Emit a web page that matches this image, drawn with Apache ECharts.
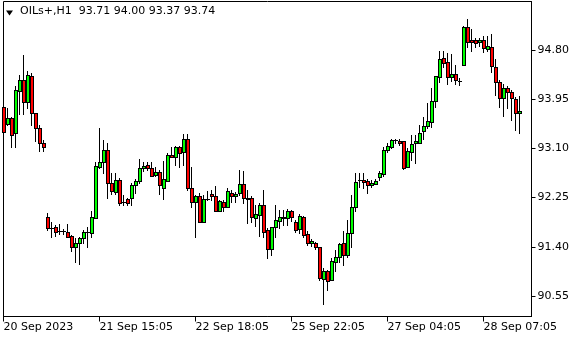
<!DOCTYPE html>
<html><head><meta charset="utf-8">
<script src="https://cdn.jsdelivr.net/npm/echarts@6/dist/echarts.min.js"></script>
<style>html,body{margin:0;padding:0;background:#fff}#c{width:580px;height:340px}</style>
</head><body><div id="c"></div>
<script>
const symbolName = 'OILs+,H1';
const lastQuote = [93.71, 94.00, 93.37, 93.74];
const lastPrice = 93.74;

const open = [
93.81,93.53,93.62,93.36,94.10,94.28,93.91,94.35,93.71,93.45,
93.19,91.91,91.73,91.74,91.68,91.68,91.66,91.59,91.39,91.46,
91.55,91.66,91.63,91.89,92.78,92.86,93.07,92.51,92.35,92.55,
92.18,92.22,92.24,92.46,92.54,92.76,92.81,92.76,92.64,92.70,
92.42,92.54,92.99,92.96,93.12,93.03,93.27,92.41,92.18,92.28,
91.83,92.22,92.32,92.28,92.02,92.17,92.08,92.33,92.27,92.33,
92.48,92.24,92.24,91.89,91.95,92.12,91.69,91.37,91.75,91.85,
91.89,91.89,92.02,91.82,91.70,91.91,91.62,91.46,91.47,91.39,
90.84,90.98,90.83,91.13,91.22,91.46,91.26,91.63,92.08,92.55,
92.55,92.54,92.46,92.49,92.60,92.66,93.08,93.12,93.24,93.23,
93.22,92.78,93.04,93.19,93.19,93.40,93.49,93.56,93.92,94.34,
94.66,94.60,94.34,94.39,94.27,94.54,95.19,94.97,94.98,94.93,
94.97,94.81,94.85,94.50,94.24,93.97,94.14,94.08,93.95,93.71];
const close = [
93.39,93.62,93.34,94.11,94.28,93.90,94.37,93.71,93.45,93.19,
93.12,91.72,91.72,91.66,91.67,91.68,91.57,91.39,91.46,91.55,
91.66,91.66,91.91,92.80,92.86,93.07,92.51,92.37,92.55,92.15,
92.18,92.15,92.47,92.54,92.76,92.80,92.76,92.63,92.69,92.46,
92.57,92.99,92.96,93.12,93.02,93.26,92.41,92.18,92.28,91.83,
92.22,92.22,92.27,92.02,92.19,92.08,92.37,92.27,92.32,92.48,
92.25,92.22,91.91,91.96,92.12,91.66,91.37,91.74,91.86,91.91,
91.91,92.01,91.91,91.69,91.93,91.60,91.46,91.50,91.40,90.86,
90.98,90.81,91.15,91.22,91.44,91.26,91.63,92.08,92.52,92.55,
92.52,92.46,92.50,92.53,92.67,93.08,93.14,93.24,93.24,93.19,
92.77,93.06,93.18,93.22,93.37,93.49,93.57,93.92,94.35,94.64,
94.58,94.34,94.39,94.28,94.27,95.19,94.93,94.94,94.92,94.97,
94.83,94.87,94.52,94.24,93.97,94.14,94.08,93.97,93.71,93.74];
const low = [
93.38,93.50,93.13,93.13,93.69,93.69,93.79,93.50,93.23,93.06,
93.06,91.69,91.57,91.59,91.62,91.62,91.57,91.32,91.13,91.11,
91.46,91.39,91.57,91.89,92.77,92.67,92.24,92.31,92.32,92.12,
92.12,92.13,92.13,92.33,92.50,92.71,92.73,92.62,92.62,92.31,
92.23,92.54,92.95,92.81,92.78,92.81,92.39,92.08,91.57,91.82,
91.83,92.21,92.21,92.01,92.01,92.01,92.08,92.18,92.18,92.29,
92.15,91.81,91.82,91.76,91.59,91.57,91.20,91.26,91.57,91.72,
91.78,91.78,91.85,91.65,91.63,91.57,91.43,91.41,91.37,90.83,
90.42,90.65,90.83,90.98,91.14,91.09,91.23,91.40,92.02,92.43,
92.41,92.33,92.43,92.48,92.55,92.62,93.04,93.10,93.19,93.16,
92.74,92.78,92.90,92.85,93.19,93.27,93.45,93.47,93.81,94.24,
94.51,94.22,94.27,94.22,94.20,94.54,94.86,94.79,94.86,94.87,
94.77,94.79,94.42,94.02,93.82,93.66,93.79,93.59,93.42,93.37];
const high = [
93.83,93.79,93.65,94.17,94.37,94.71,94.44,94.40,93.72,93.50,
93.24,91.99,91.82,91.78,91.79,91.71,91.79,91.60,91.56,91.57,
91.69,91.74,92.02,92.87,93.45,93.24,93.19,92.67,92.67,92.59,
92.29,92.25,92.50,92.58,92.91,92.87,92.87,92.87,92.78,92.73,
92.88,93.02,93.13,93.14,93.14,93.35,93.35,92.78,92.29,92.33,
92.29,92.37,92.38,92.45,92.21,92.21,92.41,92.38,92.35,92.73,
92.71,92.39,92.27,92.12,92.15,92.38,91.72,91.74,92.12,92.04,
92.04,92.05,92.04,91.86,91.96,91.93,91.67,91.53,91.49,91.40,
91.03,91.00,91.20,91.34,91.47,91.67,91.86,92.29,92.67,92.68,
92.67,92.58,92.55,92.57,92.71,93.12,93.19,93.27,93.27,93.27,
93.22,93.11,93.33,93.33,93.50,93.65,93.89,94.14,94.35,94.79,
94.79,94.74,94.73,94.54,94.31,95.21,95.33,95.17,95.00,95.00,
95.04,95.04,95.08,94.64,94.28,94.21,94.17,94.11,93.98,94.00];

const priceTicks = [90.55, 91.40, 92.25, 93.10, 93.95, 94.80];
const timeLabels = ['20 Sep 2023', '21 Sep 15:05', '22 Sep 18:05', '25 Sep 22:05', '27 Sep 04:05', '28 Sep 07:05'];
const barsPerTimeLabel = 24;
const emptyBarsRight = 3;
const yMin = 90.196, yMax = 95.638;

const categories = Array.from({length: open.length + emptyBarsRight}, (_, i) => String(i));
const candles = open.map((o, i) => [i, o, close[i], low[i], high[i]]);

const FONT = 'DejaVu Sans';
const BULL = '#00ff00', BEAR = '#ff0000';

function renderCandle(params, api) {
  const i = api.value(0);
  const o = api.value(1), c = api.value(2), l = api.value(3), h = api.value(4);
  const pO = api.coord([i, o]), pC = api.coord([i, c]);
  const pL = api.coord([i, l]), pH = api.coord([i, h]);
  const x = Math.floor(pO[0]);
  const yTop = Math.round(Math.min(pO[1], pC[1]));
  const yBot = Math.round(Math.max(pO[1], pC[1]));
  const yHigh = Math.round(pH[1]);
  const yLow = Math.round(pL[1]);
  const fill = c > o ? BULL : BEAR;
  const children = [
    {type: 'rect', shape: {x: x, y: yHigh, width: 1, height: yLow - yHigh + 1},
      style: {fill: '#000', stroke: null}},
    {type: 'rect', shape: {x: x - 1, y: yTop, width: 4, height: yBot - yTop + 1},
      style: {fill: '#000', stroke: null}}
  ];
  if (yBot - yTop >= 2 && c !== o) {
    children.push({type: 'rect', shape: {x: x, y: yTop + 1, width: 2, height: yBot - yTop - 1},
      style: {fill: fill, stroke: null}});
  }
  return {type: 'group', children: children};
}

const chart = echarts.init(document.getElementById('c'), null, {renderer: 'canvas'});
chart.setOption({
  animation: false,
  backgroundColor: '#fff',
  title: {
    text: symbolName + '  ' + lastQuote.map(v => v.toFixed(2)).join(' '),
    left: 20, top: 6, padding: 0,
    textStyle: {fontSize: 11, fontWeight: 'normal', color: '#000', fontFamily: FONT}
  },
  graphic: [{type: 'polygon', shape: {points: [[6, 10.5], [13, 10.5], [9.5, 15.5]]}, style: {fill: '#000'}, silent: true}],
  grid: {left: 3.5, right: 48.5, top: 1.5, bottom: 23.5, show: true, borderColor: '#000', borderWidth: 1, containLabel: false},
  xAxis: {
    type: 'category', data: categories, boundaryGap: false,
    axisLine: {show: true, lineStyle: {color: '#000', width: 1}},
    axisTick: {show: true, interval: barsPerTimeLabel - 1, length: 5, lineStyle: {color: '#000'}},
    axisLabel: {
      interval: barsPerTimeLabel - 1, align: 'left', margin: 5,
      color: '#000', fontSize: 11, fontFamily: FONT,
      formatter: (v, i) => (i % barsPerTimeLabel === 0 && timeLabels[i / barsPerTimeLabel]) || ''
    },
    splitLine: {show: false}
  },
  yAxis: {
    type: 'value', position: 'right', min: yMin, max: yMax, scale: true,
    axisLine: {show: true, lineStyle: {color: '#000', width: 1}},
    axisTick: {show: true, length: 4, customValues: priceTicks, lineStyle: {color: '#000'}},
    axisLabel: {customValues: priceTicks, margin: 6, color: '#000', fontSize: 11, fontFamily: FONT,
      formatter: v => Number(v).toFixed(2)},
    splitLine: {show: false}
  },
  series: [{
    type: 'custom',
    data: candles,
    encode: {x: 0, y: [1, 2, 3, 4]},
    renderItem: renderCandle,
    clip: false,
    silent: true,
    markLine: {
      silent: true, symbol: 'none', animation: false,
      lineStyle: {opacity: 0},
      data: [{yAxis: lastPrice}],
      label: {position: 'end', distance: 1, formatter: lastPrice.toFixed(2), color: '#fff', backgroundColor: '#000',
        padding: [2, 4, 1, 4], fontSize: 11, fontFamily: FONT}
    }
  }]
});
</script></body></html>
